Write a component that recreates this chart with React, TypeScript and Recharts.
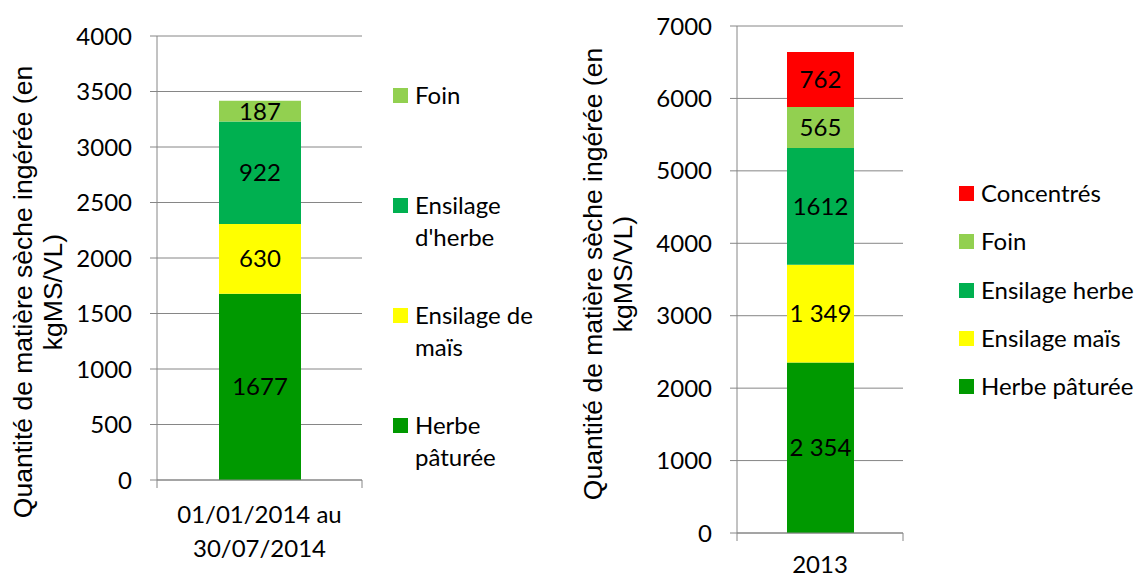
import React from "react";
import {
	BarChart,
	Bar,
	XAxis,
	YAxis,
	CartesianGrid,
	LabelList,
	Legend,
	Label,
} from "recharts";

// chart 1 : 01/01/2014 au 30/07/2014
const periodCategories = ["01/01/2014 au 30/07/2014"];
const periodCategoryLines = [["01/01/2014 au", "30/07/2014"]];
const periodSeries = ["Herbe pâturée", "Ensilage de maïs", "Ensilage d'herbe", "Foin"];
const periodValues = [1677, 630, 922, 187];
const periodLabels = ["1677", "630", "922", "187"];
const periodColors = ["#009900", "#FFFF00", "#00B050", "#92D050"];
const periodTicks = [0, 500, 1000, 1500, 2000, 2500, 3000, 3500, 4000];

// chart 2 : 2013
const yearCategories = ["2013"];
const yearCategoryLines = [["2013"]];
const yearSeries = ["Herbe pâturée", "Ensilage maïs", "Ensilage herbe", "Foin", "Concentrés"];
const yearValues = [2354, 1349, 1612, 565, 762];
const yearLabels = ["2 354", "1 349", "1612", "565", "762"];
const yearColors = ["#009900", "#FFFF00", "#00B050", "#92D050", "#FF0000"];
const yearTicks = [0, 1000, 2000, 3000, 4000, 5000, 6000, 7000];

const titleLines = ["Quantité de matière sèche ingérée (en", "kgMS/VL)"];

const AXIS = "#868686";
const FONT = "Lato";
const TITLE_FONT = "Liberation Sans";

interface StackProps {
	categories: string[];
	categoryLines: string[][];
	series: string[];
	values: number[];
	labels: string[];
	colors: string[];
	ticks: number[];
	left: number;
	margin: { top: number; right: number; bottom: number; left: number };
	yWidth: number;
	xHeight: number;
	xLabelDy: number;
	barSize: number;
	titleY: number;
	legendStyle: React.CSSProperties;
	legendRow: number;
	legendWidth: number;
	legendGap: number;
}

const StackChart: React.FC<StackProps> = (p) => {
	const width = 570;
	const height = 577;
	const plotW = width - p.margin.left - p.margin.right - p.yWidth;

	const row: Record<string, string | number> = { name: p.categories[0] };
	p.values.forEach((v, i) => {
		row[`s${i}`] = v;
		row[`l${i}`] = p.labels[i];
	});
	const data = [row];

	const renderTick = (props: any) => {
		const { x, y, payload } = props;
		const idx = p.categories.indexOf(payload.value);
		const lines = p.categoryLines[idx] || [payload.value];
		return (
			<g>
				<line x1={x - plotW / 2} y1={y} x2={x - plotW / 2} y2={y + 8} stroke={AXIS} />
				<line x1={x + plotW / 2} y1={y} x2={x + plotW / 2} y2={y + 8} stroke={AXIS} />
				<text textAnchor="middle" fontFamily={FONT} fontSize={24} fill="#000">
					{lines.map((l, i) => (
						<tspan key={i} x={x} y={y + p.xLabelDy + i * 34}>
							{l}
						</tspan>
					))}
				</text>
			</g>
		);
	};

	const renderTitle = () => (
		<g>
			{titleLines.map((t, i) => (
				<text
					key={i}
					transform={`translate(${32 + i * 30}, ${p.titleY}) rotate(-90)`}
					textAnchor="middle"
					fontFamily={TITLE_FONT}
					fontSize={26.5}
					fill="#000"
				>
					{t}
				</text>
			))}
		</g>
	);

	const renderLegend = () => (
		<div style={{ fontFamily: FONT, fontSize: 24, color: "#000" }}>
			{p.series
				.map((s, i) => ({ s, c: p.colors[i] }))
				.reverse()
				.map((it) => (
					<div
						key={it.s}
						style={{ height: p.legendRow, display: "flex", alignItems: "flex-start" }}
					>
						<div
							style={{
								width: 15,
								height: 15,
								background: it.c,
								marginTop: 8,
								marginRight: p.legendGap,
								flex: "none",
							}}
						/>
						<div style={{ width: p.legendWidth, lineHeight: "32px", marginTop: -1 }}>
							{it.s}
						</div>
					</div>
				))}
		</div>
	);

	return (
		<div style={{ position: "absolute", left: p.left, top: 0, width, height }}>
			<BarChart width={width} height={height} data={data} margin={p.margin}>
				<CartesianGrid vertical={false} stroke={AXIS} />
				<XAxis
					dataKey="name"
					height={p.xHeight}
					interval={0}
					tickLine={false}
					tickSize={0}
					tickMargin={0}
					axisLine={{ stroke: AXIS }}
					tick={renderTick}
				/>
				<YAxis
					type="number"
					domain={[0, p.ticks[p.ticks.length - 1]]}
					ticks={p.ticks}
					interval={0}
					width={p.yWidth}
					tickSize={7}
					tickMargin={18}
					tickLine={{ stroke: AXIS }}
					axisLine={{ stroke: AXIS }}
					tick={{ fill: "#000", fontSize: 24, fontFamily: FONT }}
				>
					<Label content={renderTitle} />
				</YAxis>
				<Legend
					layout="vertical"
					align="center"
					verticalAlign="middle"
					wrapperStyle={p.legendStyle}
					content={renderLegend}
				/>
				{p.series.map((s, i) => (
					<Bar
						key={s}
						name={s}
						dataKey={`s${i}`}
						stackId="a"
						fill={p.colors[i]}
						barSize={p.barSize}
						isAnimationActive={false}
					>
						<LabelList
							dataKey={`l${i}`}
							position="center"
							fill="#000"
							fontSize={24}
							fontFamily={FONT}
						/>
					</Bar>
				))}
			</BarChart>
		</div>
	);
};

export default function App() {
	return (
		<div
			style={{
				position: "absolute",
				left: 0,
				top: 0,
				width: 1140,
				height: 577,
				background: "#fff",
				overflow: "hidden",
			}}
		>
			<StackChart
				categories={periodCategories}
				categoryLines={periodCategoryLines}
				series={periodSeries}
				values={periodValues}
				labels={periodLabels}
				colors={periodColors}
				ticks={periodTicks}
				left={0}
				margin={{ top: 36, right: 208, bottom: 37, left: 0 }}
				yWidth={157}
				xHeight={60}
				xLabelDy={43}
				barSize={82}
				titleY={292}
				legendStyle={{ left: 393, top: 80, width: 175, height: 440 }}
				legendRow={110}
				legendWidth={140}
				legendGap={7}
			/>
			<StackChart
				categories={yearCategories}
				categoryLines={yearCategoryLines}
				series={yearSeries}
				values={yearValues}
				labels={yearLabels}
				colors={yearColors}
				ticks={yearTicks}
				left={570}
				margin={{ top: 26, right: 237, bottom: 14, left: 0 }}
				yWidth={167}
				xHeight={30}
				xLabelDy={40}
				barSize={67}
				titleY={274}
				legendStyle={{ left: 389, top: 178, width: 181, height: 245 }}
				legendRow={48.3}
				legendWidth={170}
				legendGap={7}
			/>
		</div>
	);
}
